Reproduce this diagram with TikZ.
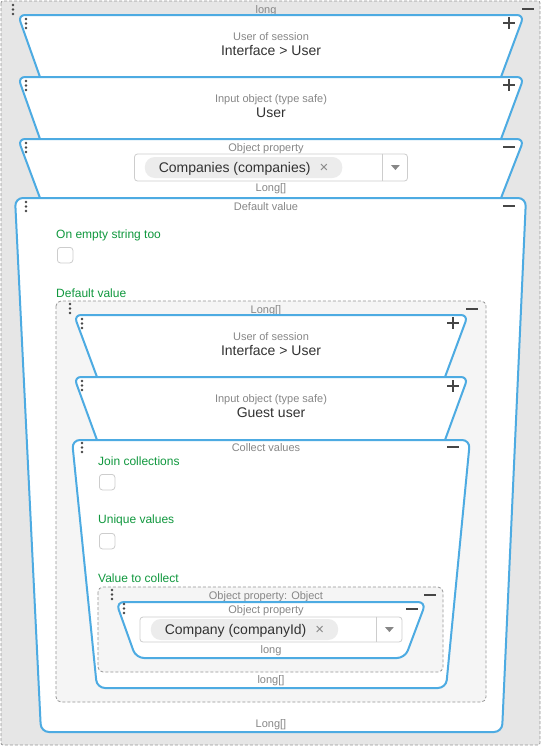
\documentclass[tikz,border=0pt]{standalone}
\usepackage{fontspec}
\setmainfont{Liberation Sans}
\usepackage{tikz}
\usetikzlibrary{positioning}
\definecolor{blockblue}{RGB}{77,171,226}
\definecolor{outerfill}{RGB}{230,230,230}
\definecolor{slotfill}{RGB}{245,245,245}
\definecolor{slotgray}{RGB}{150,150,150}
\definecolor{boxgray}{RGB}{205,205,205}
\definecolor{chipgray}{RGB}{236,236,236}
\definecolor{lblgray}{RGB}{135,135,135}
\definecolor{valdark}{RGB}{50,50,50}
\definecolor{icongray}{RGB}{70,70,70}
\definecolor{optgreen}{RGB}{16,152,62}

\begin{document}
\begin{tikzpicture}[x=1pt, y=-1pt,
  txt/.style={inner sep=0pt, text height=1.45ex, text depth=.35ex, yshift=-2pt},
  lbl/.style={txt, font=\fontsize{11}{13}\selectfont, text=lblgray},
  val/.style={txt, font=\fontsize{14}{17}\selectfont, text=valdark},
  opt/.style={txt, anchor=west, font=\fontsize{12}{14}\selectfont, text=optgreen},
  blk/.style={draw=blockblue, line width=2pt, fill=white, rounded corners=7pt},
  slot/.style={draw=slotgray, dash pattern=on 3pt off 2pt, line width=.8pt,
               fill=slotfill, rounded corners=5pt},
  chk/.style={draw=boxgray, fill=white, rounded corners=3pt, minimum size=15.5pt,
              inner sep=0pt, line width=.8pt},
  combo/.style={draw=boxgray, fill=white, rounded corners=3pt, inner sep=0pt, line width=.8pt},
  chip/.style={fill=chipgray, rounded corners=10pt, minimum height=21pt, inner ysep=0pt,
               text height=12pt, text depth=3pt,
               inner xsep=14pt, font=\fontsize{14}{17}\selectfont, text=valdark},
  grip/.pic={\fill[icongray] (0,0) circle (1.4pt) (0,4.5) circle (1.4pt) (0,9) circle (1.4pt);},
  plusbtn/.pic={\draw[icongray, line width=1.8pt] (-6,0) -- (6,0) (0,-6) -- (0,6);},
  minusbtn/.pic={\draw[icongray, line width=1.8pt] (-6,0) -- (6,0);},
  caret/.pic={\fill[lblgray] (-4.5,-2.5) -- (4.5,-2.5) -- (0,2.5) -- cycle;},
]
\useasboundingbox (0,0) rectangle (542,747);

% outer slot
\draw[slot, fill=outerfill, rounded corners=2pt] (1,1) rectangle (540,745);
\node[lbl] (outerlbl) at (266,9) {long};
\pic at (13,5) {grip};
\pic at (528,9) {minusbtn};

% user of session
\draw[blk] (40,77) -- (18,15) -- (524,15) -- (501,77);
\pic at (26,19) {grip};
\pic at (509,23) {plusbtn};
\node[lbl] (sess1) at (271,36) {User of session};
\node[val] (sessval1) at (271,51) {Interface > User};

% input object
\draw[blk] (40,139) -- (18,77) -- (524,77) -- (501,139);
\pic at (26,81) {grip};
\pic at (509,85) {plusbtn};
\node[lbl] (inp1) at (271,98) {Input object (type safe)};
\node[val] (inpval1) at (271,113) {User};

% object property
\draw[blk] (40,198) -- (18,139) -- (524,139) -- (501,198);
\pic at (26,143) {grip};
\pic at (509,147) {minusbtn};
\node[lbl] (prop1) at (266,147) {Object property};
\node[combo, minimum width=273pt, minimum height=27pt] (combo1) at (271,167.5) {};
\node[chip, anchor=west, right=10.5pt of combo1.west] (chip1)
     {Companies (companies)\hspace{9pt}{\fontsize{15}{15}\selectfont\color{lblgray}×}};
\draw[boxgray, line width=.8pt] ([xshift=-25.5pt]combo1.north east) -- ([xshift=-25.5pt]combo1.south east);
\pic at ([xshift=-12.5pt]combo1.east) {caret};
\node[lbl] (type1) at (271,187) {Long[]};

% default value
\draw[blk, rounded corners=8pt] (15,198) -- (526,198) -- (502,732) -- (41,732) -- cycle;
\pic at (26,202) {grip};
\pic at (509,206) {minusbtn};
\node[lbl] (dflt) at (266,206) {Default value};
\node[opt] (empty) at (56,234) {On empty string too};
\node[chk, anchor=north west] (chk1) at (57,247) {};
\node[opt] (dfltval) at (56,293) {Default value};
\node[lbl] (type4) at (271,723) {Long[]};

% inner slot
\draw[slot] (56,301) rectangle (486,702);
\node[lbl] (slotlbl1) at (266,309) {Long[]};
\pic at (70,304) {grip};
\pic at (472,309) {minusbtn};

\draw[blk] (97,377) -- (74,315) -- (468,315) -- (445,377);
\pic at (82,319) {grip};
\pic at (453,323) {plusbtn};
\node[lbl] (sess2) at (271,336) {User of session};
\node[val] (sessval2) at (271,351) {Interface > User};

\draw[blk] (97,440) -- (74,377) -- (468,377) -- (445,440);
\pic at (82,381) {grip};
\pic at (453,386) {plusbtn};
\node[lbl] (inp2) at (271,398) {Input object (type safe)};
\node[val] (inpval2) at (271,413) {Guest user};

% collect values
\draw[blk, rounded corners=8pt] (72,440) -- (470,440) -- (446,688) -- (97,688) -- cycle;
\pic at (82,443) {grip};
\pic at (453,447) {minusbtn};
\node[lbl] (coll) at (266,447) {Collect values};
\node[opt] (join) at (98,461) {Join collections};
\node[chk, anchor=north west] (chk2) at (99,474) {};
\node[opt] (uniq) at (98,519) {Unique values};
\node[chk, anchor=north west] (chk3) at (99,533) {};
\node[opt] (tocoll) at (98,578) {Value to collect};
\node[lbl] (type7) at (271,679) {long[]};

\draw[slot] (98,587) rectangle (443,672);
\node[lbl] (slotlbl2) at (266,595) {Object property: Object};
\pic at (112,590) {grip};
\pic at (430,595) {minusbtn};

\draw[blk, rounded corners=8pt] (116,602) -- (426,602) -- (405,658) -- (136,658) -- cycle;
\pic at (124,604) {grip};
\pic at (412,609) {minusbtn};
\node[lbl] (prop2) at (266,609) {Object property};
\node[combo, minimum width=262pt, minimum height=25pt] (combo2) at (271,629.5) {};
\node[chip, anchor=west, right=11pt of combo2.west] (chip2)
     {Company (companyId)\hspace{9pt}{\fontsize{15}{15}\selectfont\color{lblgray}×}};
\draw[boxgray, line width=.8pt] ([xshift=-26pt]combo2.north east) -- ([xshift=-26pt]combo2.south east);
\pic at ([xshift=-13pt]combo2.east) {caret};
\node[lbl] (type8) at (271,649) {long};
\end{tikzpicture}
\end{document}
